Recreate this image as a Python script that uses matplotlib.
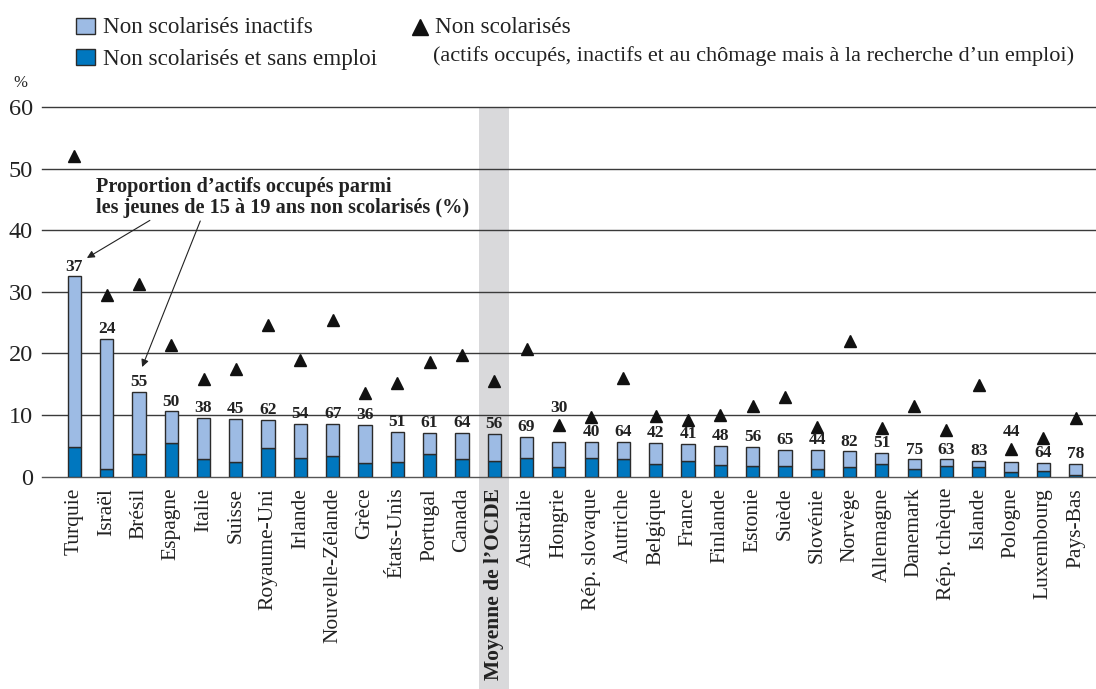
import matplotlib
matplotlib.use("Agg")
import matplotlib.pyplot as plt
from matplotlib.patches import Rectangle
from matplotlib.lines import Line2D
import matplotlib.transforms as mtransforms
import numpy as np

countries = ["Turquie", "Israël", "Brésil", "Espagne", "Italie", "Suisse", "Royaume-Uni",
             "Irlande", "Nouvelle-Zélande", "Grèce", "États-Unis", "Portugal", "Canada",
             "Moyenne de l’OCDE", "Australie", "Hongrie", "Rép. slovaque", "Autriche",
             "Belgique", "France", "Finlande", "Estonie", "Suède", "Slovénie", "Norvège",
             "Allemagne", "Danemark", "Rép. tchèque", "Islande", "Pologne", "Luxembourg",
             "Pays-Bas"]

sans_emploi = [4.9, 1.3, 3.7, 5.4, 2.8, 2.4, 4.6, 3.0, 3.3, 2.3, 2.4, 3.7, 2.8,
               2.5, 3.1, 1.6, 3.1, 2.9, 2.0, 2.6, 1.9, 1.8, 1.8, 1.2, 1.5,
               2.0, 1.2, 1.7, 1.6, 0.8, 1.0, 0.3]

inactifs = [27.6, 21.0, 10.1, 5.2, 6.8, 7.0, 4.6, 5.6, 5.2, 6.1, 4.9, 3.4, 4.3,
            4.4, 3.3, 4.1, 2.6, 2.8, 3.5, 2.7, 3.1, 3.1, 2.6, 3.2, 2.6,
            1.8, 1.6, 1.1, 1.0, 1.6, 1.2, 1.8]

non_scolarises = [52.0, 29.5, 31.3, 21.4, 15.8, 17.5, 24.7, 19.0, 25.5, 13.6, 15.2, 18.6, 19.8,
                  15.6, 20.8, 8.4, 9.7, 16.0, 9.8, 9.2, 10.0, 11.5, 13.0, 8.1, 22.0,
                  7.9, 11.5, 7.6, 14.9, 4.5, 6.3, 9.6]

actifs_occupes = [37, 24, 55, 50, 38, 45, 62, 54, 67, 36, 51, 61, 64,
                  56, 69, 30, 40, 64, 42, 41, 48, 56, 65, 44, 82,
                  51, 75, 63, 83, 44, 64, 78]

yticks = [0, 10, 20, 30, 40, 50, 60]

FONT = "Liberation Serif"
LIGHT = "#9dbbe4"
DARK = "#0077bf"
EDGE = "#2b2b2b"
BAND = "#d9d9db"

plt.rcParams['font.family'] = FONT

W, H = 1096, 689
fig = plt.figure(figsize=(W / 100, H / 100), dpi=100)
ax = fig.add_axes([42 / W, 1 - 476.7 / H, 1 - 42 / W, (476.7 - 107) / H])

x = np.arange(len(countries))
oecd_idx = countries.index("Moyenne de l’OCDE")

ax.set_xlim(-1.0, 31.63)
ax.set_ylim(0, 60)

# gray band for OECD average
trans = mtransforms.blended_transform_factory(ax.transData, ax.transAxes)
ax.add_patch(Rectangle((oecd_idx - 0.47, -2.0), 0.94, 3.0, transform=trans,
                       facecolor=BAND, edgecolor="none", zorder=0, clip_on=False))

# gridlines
for t in yticks:
    ax.axhline(t, color="#3a3a3a" if t else "#555555", lw=1.0, zorder=1, clip_on=False)

bw = 0.41
ax.bar(x, sans_emploi, width=bw, color=DARK, edgecolor=EDGE, linewidth=1.0, zorder=3)
ax.bar(x, inactifs, width=bw, bottom=sans_emploi, color=LIGHT, edgecolor=EDGE,
       linewidth=1.0, zorder=3)
ax.plot(x, non_scolarises, linestyle="none", marker="^", color="#111111",
        markersize=8, zorder=4)

# value labels
for xi, d, l, tri, v in zip(x, sans_emploi, inactifs, non_scolarises, actifs_occupes):
    top = d + l
    if tri - top < 3.0:
        y = tri + 2.8
    else:
        y = top + 1.6
    ax.text(xi, y, str(v), ha="center", va="center", fontsize=12.5,
            fontweight="bold", color="#222222", zorder=5)

ax.set_yticks(yticks)
ax.set_yticklabels([str(t) for t in yticks], fontsize=17.5, color="#222222")
ax.set_xticks(x)
ax.set_xticklabels(countries, rotation=90, fontsize=15.5, color="#222222")
for lbl in ax.get_xticklabels():
    if lbl.get_text() == "Moyenne de l’OCDE":
        lbl.set_fontweight("bold")
ax.tick_params(axis="both", length=0)
ax.tick_params(axis="y", pad=6.5)
ax.tick_params(axis="x", pad=8)
for s in ax.spines.values():
    s.set_visible(False)
ax.patch.set_alpha(0)

# annotation
ax.text(0.67, 45.3, "Proportion d’actifs occupés parmi\nles jeunes de 15 à 19 ans non scolarisés (%)",
        ha="left", va="center", fontsize=14.6, fontweight="bold", color="#222222",
        linespacing=1.12, zorder=6)
arrow = dict(arrowstyle="-|>", color="#222222", lw=0.8, mutation_scale=11,
             shrinkA=0, shrinkB=0)
ax.annotate("", xy=(0.39, 35.5), xytext=(2.34, 41.6), arrowprops=arrow, zorder=6)
ax.annotate("", xy=(2.1, 17.8), xytext=(3.9, 41.5), arrowprops=arrow, zorder=6)

# "%" label
fig.text(13 / W, 1 - 87 / H, "%", fontsize=12, color="#222222", va="baseline")

# legend
def fx(px):
    return px / W

def fy(py):
    return 1 - py / H

fig.add_artist(Rectangle((fx(76), fy(34)), 19 / W, 16 / H, transform=fig.transFigure,
                         facecolor=LIGHT, edgecolor=EDGE, lw=1.0))
fig.add_artist(Rectangle((fx(76), fy(65)), 19 / W, 16 / H, transform=fig.transFigure,
                         facecolor=DARK, edgecolor=EDGE, lw=1.0))
fig.text(fx(103), fy(33), "Non scolarisés inactifs", fontsize=16.7, color="#222222",
         va="baseline")
fig.text(fx(103), fy(65), "Non scolarisés et sans emploi", fontsize=16.7, color="#222222",
         va="baseline")
fig.add_artist(Line2D([fx(419.5)], [fy(27)], transform=fig.transFigure, marker="^",
                      markersize=11, color="#111111", linestyle="none"))
fig.text(fx(435), fy(33), "Non scolarisés", fontsize=16.7, color="#222222", va="baseline")
fig.text(fx(433), fy(61),
         "(actifs occupés, inactifs et au chômage mais à la recherche d’un emploi)",
         fontsize=16.0, color="#222222", va="baseline")

fig.savefig("out.png", dpi=100)
